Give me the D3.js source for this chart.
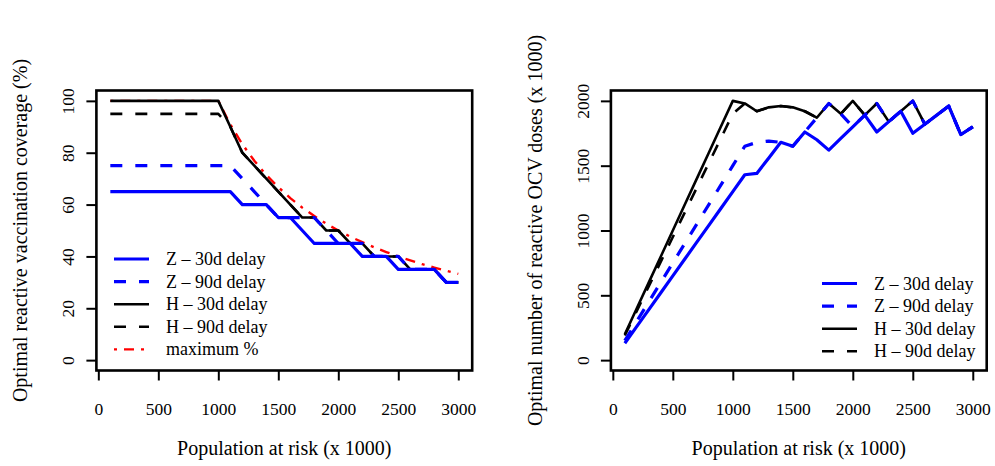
<!DOCTYPE html>
<html>
<head>
<meta charset="utf-8">
<script src="https://cdn.jsdelivr.net/npm/d3@7"></script>
<style>
  body { margin: 0; background: #fff; }
  svg { display: block; font-family: "Liberation Serif", "Times New Roman", serif; }
</style>
</head>
<body>
<svg id="chart"></svg>
<script>
const width = 995;
const height = 466;

// population at risk (x 1000)
const population = [100, 200, 300, 400, 500, 600, 700, 800, 900, 1000,
                    1100, 1200, 1300, 1400, 1500, 1600, 1700, 1800, 1900, 2000,
                    2100, 2200, 2300, 2400, 2500, 2600, 2700, 2800, 2900, 3000];

// left panel: optimal coverage (%)
const covZ30 = [65, 65, 65, 65, 65, 65, 65, 65, 65, 65,
                65, 60, 60, 60, 55, 55, 50, 45, 45, 45,
                45, 40, 40, 40, 35, 35, 35, 35, 30, 30];
const covZ90 = [75, 75, 75, 75, 75, 75, 75, 75, 75, 75,
                75, 70, 65, 60, 55, 55, 55, 55, 50, 45,
                45, 45, 40, 40, 40, 35, 35, 35, 30, 30];
const covH30 = [100, 100, 100, 100, 100, 100, 100, 100, 100, 100,
                90, 80, 75, 70, 65, 60, 55, 55, 50, 50,
                45, 45, 40, 40, 40, 35, 35, 35, 30, 30];
const covH90 = [95, 95, 95, 95, 95, 95, 95, 95, 95, 95,
                90, 80, 75, 70, 65, 60, 55, 55, 50, 50,
                45, 45, 40, 40, 40, 35, 35, 35, 30, 30];
const covMax = [100, 100, 100, 100, 100, 100, 100, 100, 100, 100,
                90.9, 83.3, 76.9, 71.4, 66.7, 62.5, 58.8, 55.6, 52.6, 50,
                47.6, 45.5, 43.5, 41.7, 40, 38.5, 37, 35.7, 34.5, 33.3];

// right panel: optimal number of doses (x 1000)
const dosesZ30 = [130, 260, 390, 520, 650, 780, 910, 1040, 1170, 1300,
                  1430, 1440, 1560, 1680, 1650, 1760, 1700, 1620, 1710, 1800,
                  1890, 1760, 1840, 1920, 1750, 1820, 1890, 1960, 1740, 1800];
const dosesZ90 = [150, 300, 450, 600, 750, 900, 1050, 1200, 1350, 1500,
                  1650, 1680, 1690, 1680, 1650, 1760, 1870, 1980, 1900, 1800,
                  1890, 1980, 1840, 1920, 2000, 1820, 1890, 1960, 1740, 1800];
const dosesH30 = [200, 400, 600, 800, 1000, 1200, 1400, 1600, 1800, 2000,
                  1980, 1920, 1950, 1960, 1950, 1920, 1870, 1980, 1900, 2000,
                  1890, 1980, 1840, 1920, 2000, 1820, 1890, 1960, 1740, 1800];
const dosesH90 = [190, 380, 570, 760, 950, 1140, 1330, 1520, 1710, 1900,
                  1980, 1920, 1950, 1960, 1950, 1920, 1870, 1980, 1900, 2000,
                  1890, 1980, 1840, 1920, 2000, 1820, 1890, 1960, 1740, 1800];

const xTicks = [0, 500, 1000, 1500, 2000, 2500, 3000];
const yTicksLeft = [0, 20, 40, 60, 80, 100];
const yTicksRight = [0, 500, 1000, 1500, 2000];

const labelsLeft = ["Z \u2013 30d delay", "Z \u2013 90d delay", "H \u2013 30d delay", "H \u2013 90d delay", "maximum %"];
const labelsRight = ["Z \u2013 30d delay", "Z \u2013 90d delay", "H \u2013 30d delay", "H \u2013 90d delay"];

const styles = {
  z30: { color: "#0000ff", width: 3.2, dash: null },
  z90: { color: "#0000ff", width: 3.2, dash: "12,13" },
  h30: { color: "#000000", width: 2.6, dash: null },
  h90: { color: "#000000", width: 2.6, dash: "12,13" },
  max: { color: "#ff0000", width: 2.4, dash: "3,7,10,7" }
};

const svg = d3.select("#chart")
              .attr("width", width)
              .attr("height", height);

function panel(opts) {
  const x = d3.scaleLinear().domain([-16, 3116]).range([opts.left, opts.right]);
  const y = d3.scaleLinear().domain(opts.yDomain).range([370.5, 90.5]);
  const g = svg.append("g");

  const line = vals => d3.line()
                         .x((d, i) => x(population[i]))
                         .y(d => y(d))(vals);

  opts.series.forEach(s => {
    const st = styles[s.key];
    g.append("path")
     .attr("d", line(s.values))
     .attr("fill", "none")
     .attr("stroke", st.color)
     .attr("stroke-width", st.width)
     .attr("stroke-dasharray", st.dash)
     .attr("stroke-linejoin", "round");
  });

  // box
  g.append("rect")
   .attr("x", opts.left)
   .attr("y", 90.5)
   .attr("width", opts.right - opts.left)
   .attr("height", 280)
   .attr("fill", "none")
   .attr("stroke", "#000")
   .attr("stroke-width", 2.6);

  const xAxis = g.append("g")
                 .attr("transform", "translate(0,370.5)")
                 .call(d3.axisBottom(x).tickValues(xTicks).tickFormat(d3.format("d"))
                         .tickSize(10).tickSizeOuter(0));
  xAxis.select(".domain").remove();
  xAxis.selectAll("line").attr("stroke-width", 2);
  xAxis.selectAll("text")
       .attr("y", 44).attr("dy", null)
       .attr("font-size", 17.5)
       .attr("font-family", "Liberation Serif")
       .attr("fill", "#000");

  const yAxis = g.append("g")
                 .attr("transform", `translate(${opts.left},0)`)
                 .call(d3.axisLeft(y).tickValues(opts.yTicks).tickFormat(d3.format("d"))
                         .tickSize(10).tickSizeOuter(0));
  yAxis.select(".domain").remove();
  yAxis.selectAll("line").attr("stroke-width", 2);
  yAxis.selectAll("text")
       .attr("transform", "rotate(-90)")
       .attr("x", 0).attr("y", -22).attr("dy", null)
       .attr("text-anchor", "middle")
       .attr("font-size", 17.5)
       .attr("font-family", "Liberation Serif")
       .attr("fill", "#000");

  g.append("text")
   .attr("x", (opts.left + opts.right) / 2)
   .attr("y", 455)
   .attr("text-anchor", "middle")
   .attr("font-size", 20)
   .text("Population at risk (x 1000)");

  g.append("text")
   .attr("transform", `translate(${opts.left - 69},230.5) rotate(-90)`)
   .attr("text-anchor", "middle")
   .attr("font-size", 20)
   .text(opts.yTitle);

  // legend
  const leg = g.append("g");
  opts.legend.forEach((lab, i) => {
    const st = styles[opts.legendKeys[i]];
    const ly = opts.legendY + i * 22.6;
    leg.append("line")
       .attr("x1", opts.legendX).attr("x2", opts.legendX + 35)
       .attr("y1", ly).attr("y2", ly)
       .attr("stroke", st.color)
       .attr("stroke-width", st.width)
       .attr("stroke-dasharray", st.dash);
    leg.append("text")
       .attr("x", opts.legendX + 52)
       .attr("y", ly + 6)
       .attr("font-size", 18)
       .text(lab);
  });
}

panel({
  left: 96.4, right: 472.2,
  yDomain: [-4, 104],
  yTicks: yTicksLeft,
  yTitle: "Optimal reactive vaccination coverage (%)",
  series: [
    { key: "max", values: covMax },
    { key: "h30", values: covH30 },
    { key: "h90", values: covH90 },
    { key: "z30", values: covZ30 },
    { key: "z90", values: covZ90 }
  ],
  legend: labelsLeft,
  legendKeys: ["z30", "z90", "h30", "h90", "max"],
  legendX: 114, legendY: 259
});

panel({
  left: 610.9, right: 986.7,
  yDomain: [-80, 2080],
  yTicks: yTicksRight,
  yTitle: "Optimal number of reactive OCV doses (x 1000)",
  series: [
    { key: "h30", values: dosesH30 },
    { key: "h90", values: dosesH90 },
    { key: "z30", values: dosesZ30 },
    { key: "z90", values: dosesZ90 }
  ],
  legend: labelsRight,
  legendKeys: ["z30", "z90", "h30", "h90"],
  legendX: 822, legendY: 283.5
});
</script>
</body>
</html>
